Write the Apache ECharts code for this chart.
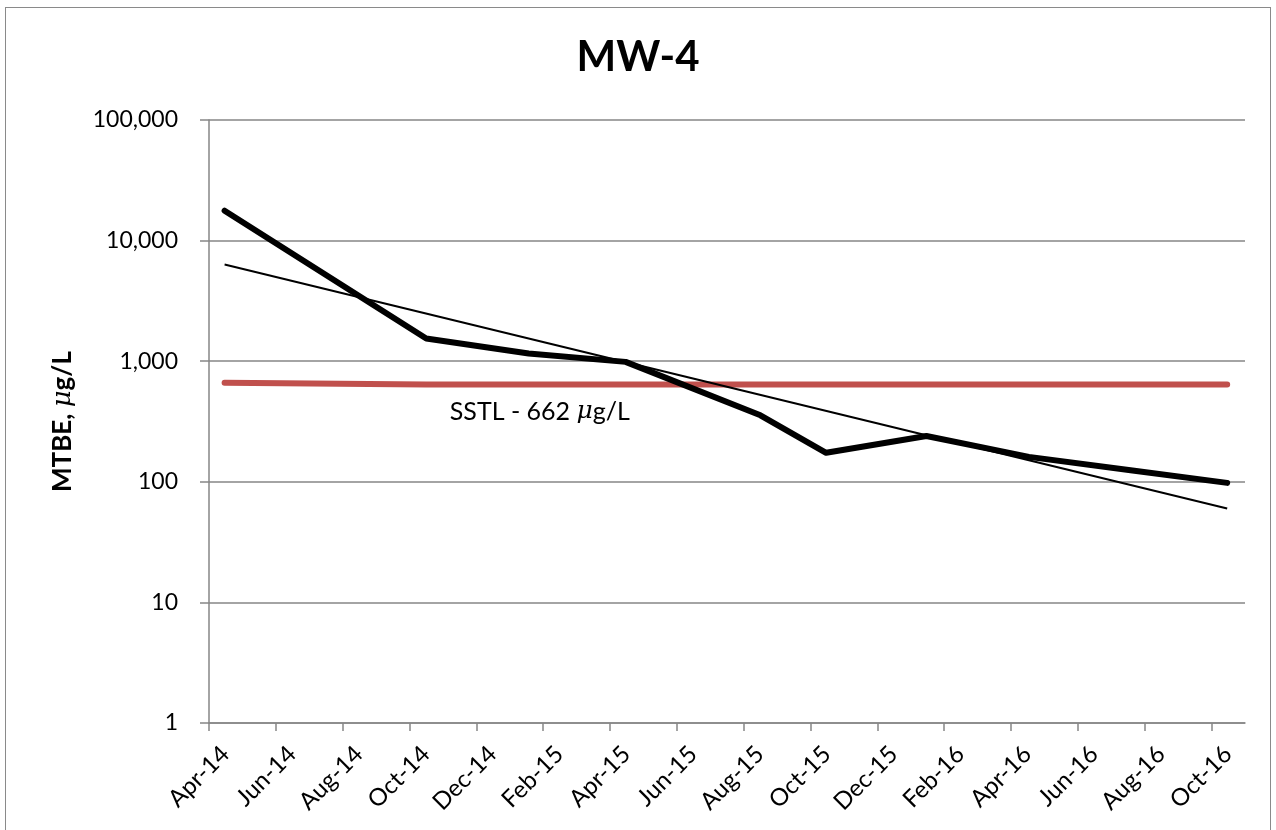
<!DOCTYPE html>
<html>
<head>
<meta charset="utf-8">
<script src="https://cdn.jsdelivr.net/npm/echarts@6/dist/echarts.min.js"></script>
<style>
html,body{margin:0;padding:0;background:#fff;}
#wrap{position:relative;width:1276px;height:830px;}
#frame{position:absolute;left:5px;top:7px;width:1266px;height:830px;border:1.5px solid #8a8a8a;box-sizing:border-box;}
#chart{position:absolute;left:0;top:0;width:1276px;height:830px;}
</style>
</head>
<body>
<div id="wrap"><div id="frame"></div><div id="chart"></div></div>
<script>
// ---- data ----
const sampleDates = ['2014-04-15','2014-10-16','2015-01-18','2015-04-15','2015-08-16','2015-10-15','2016-01-15','2016-04-17','2016-07-20','2016-10-15'];
const mtbeValues = [17700, 1540, 1160, 987, 356, 174, 240, 161, 124, 98];
const sstlValues = [662, 640, 640, 640, 640, 640, 640, 640, 640, 640];
const trendDates = ['2014-04-15', '2016-10-15'];
const trendValues = [6345, 60];
const xTickLabels = ['Apr-14','Jun-14','Aug-14','Oct-14','Dec-14','Feb-15','Apr-15','Jun-15','Aug-15','Oct-15','Dec-15','Feb-16','Apr-16','Jun-16','Aug-16','Oct-16'];
const sstlLabel = 'SSTL - 662 ';
const sstlLabelDate = '2015-01-28';
const titleText = 'MW-4';

// months since 2014-04-01
function monthOffset(s){
  const [y,m,d] = s.split('-').map(Number);
  return (y-2014)*12 + (m-4) + (d-1)/30;
}
const mtbeData = sampleDates.map((d,i)=>[monthOffset(d), mtbeValues[i]]);
const sstlData = sampleDates.map((d,i)=>[monthOffset(d), sstlValues[i]]);
const trendData = trendDates.map((d,i)=>[monthOffset(d), trendValues[i]]);

const FONT = 'Lato';
const chart = echarts.init(document.getElementById('chart'), null, {renderer:'canvas'});
chart.setOption({
  animation:false,
  backgroundColor:'transparent',
  title:{text:titleText,left:'center',top:31,textStyle:{fontFamily:FONT,fontWeight:'bold',fontSize:42,color:'#000'}},
  grid:{left:209,right:31,top:120,bottom:107,containLabel:false},
  xAxis:{
    type:'value',min:0,max:31,interval:2,
    axisLine:{show:true,lineStyle:{color:'#868686',width:1.5}},
    axisTick:{show:true,length:8,lineStyle:{color:'#868686',width:1.5}},
    splitLine:{show:false},
    axisLabel:{
      rotate:45,margin:11,fontFamily:FONT,fontSize:24,color:'#000',
      align:'right',verticalAlign:'top',lineHeight:46,
      showMaxLabel:false,
      formatter:v=>{const i=Math.round(v/2);return (Math.abs(v-2*i)<1e-6 && i<xTickLabels.length)?xTickLabels[i]:'';}
    }
  },
  yAxis:{
    type:'log',logBase:10,min:1,max:100000,
    name:'{b|MTBE, }{i|μ}{b|g/L}',nameLocation:'middle',nameGap:133,nameRotate:90,
    nameTextStyle:{rich:{b:{fontFamily:FONT,fontWeight:'bold',fontSize:26,color:'#000'},i:{fontFamily:'DejaVu Serif',fontStyle:'italic',fontSize:26,color:'#000'}}},
    axisLine:{show:true,lineStyle:{color:'#868686',width:1.5}},
    axisTick:{show:true,length:9,lineStyle:{color:'#868686',width:1.5}},
    splitLine:{show:true,lineStyle:{color:'#868686',width:1.5}},
    axisLabel:{margin:31,fontFamily:FONT,fontSize:23,color:'#000',formatter:v=>Math.round(v).toLocaleString('en-US')}
  },
  series:[
    {type:'line',name:'SSTL',data:sstlData,symbol:'none',lineStyle:{color:'#C0504D',width:6,cap:'round'},z:2,
     markPoint:{symbol:'rect',symbolSize:1,itemStyle:{color:'rgba(0,0,0,0)'},silent:true,
       data:[{coord:[monthOffset(sstlLabelDate),640],value:1}],
       label:{show:true,position:'inside',offset:[0,27],formatter:'{t|'+sstlLabel+'}{i|μ}{t|g/L}',
         rich:{t:{fontFamily:FONT,fontSize:25,color:'#000'},i:{fontFamily:'DejaVu Serif',fontStyle:'italic',fontSize:25,color:'#000'}}}}},
    {type:'line',name:'MTBE',data:mtbeData,symbol:'none',lineStyle:{color:'#000',width:6,cap:'round',join:'round'},z:3},
    {type:'line',name:'Trend',data:trendData,symbol:'none',lineStyle:{color:'#000',width:2},z:4}
  ]
});
</script>
</body>
</html>
